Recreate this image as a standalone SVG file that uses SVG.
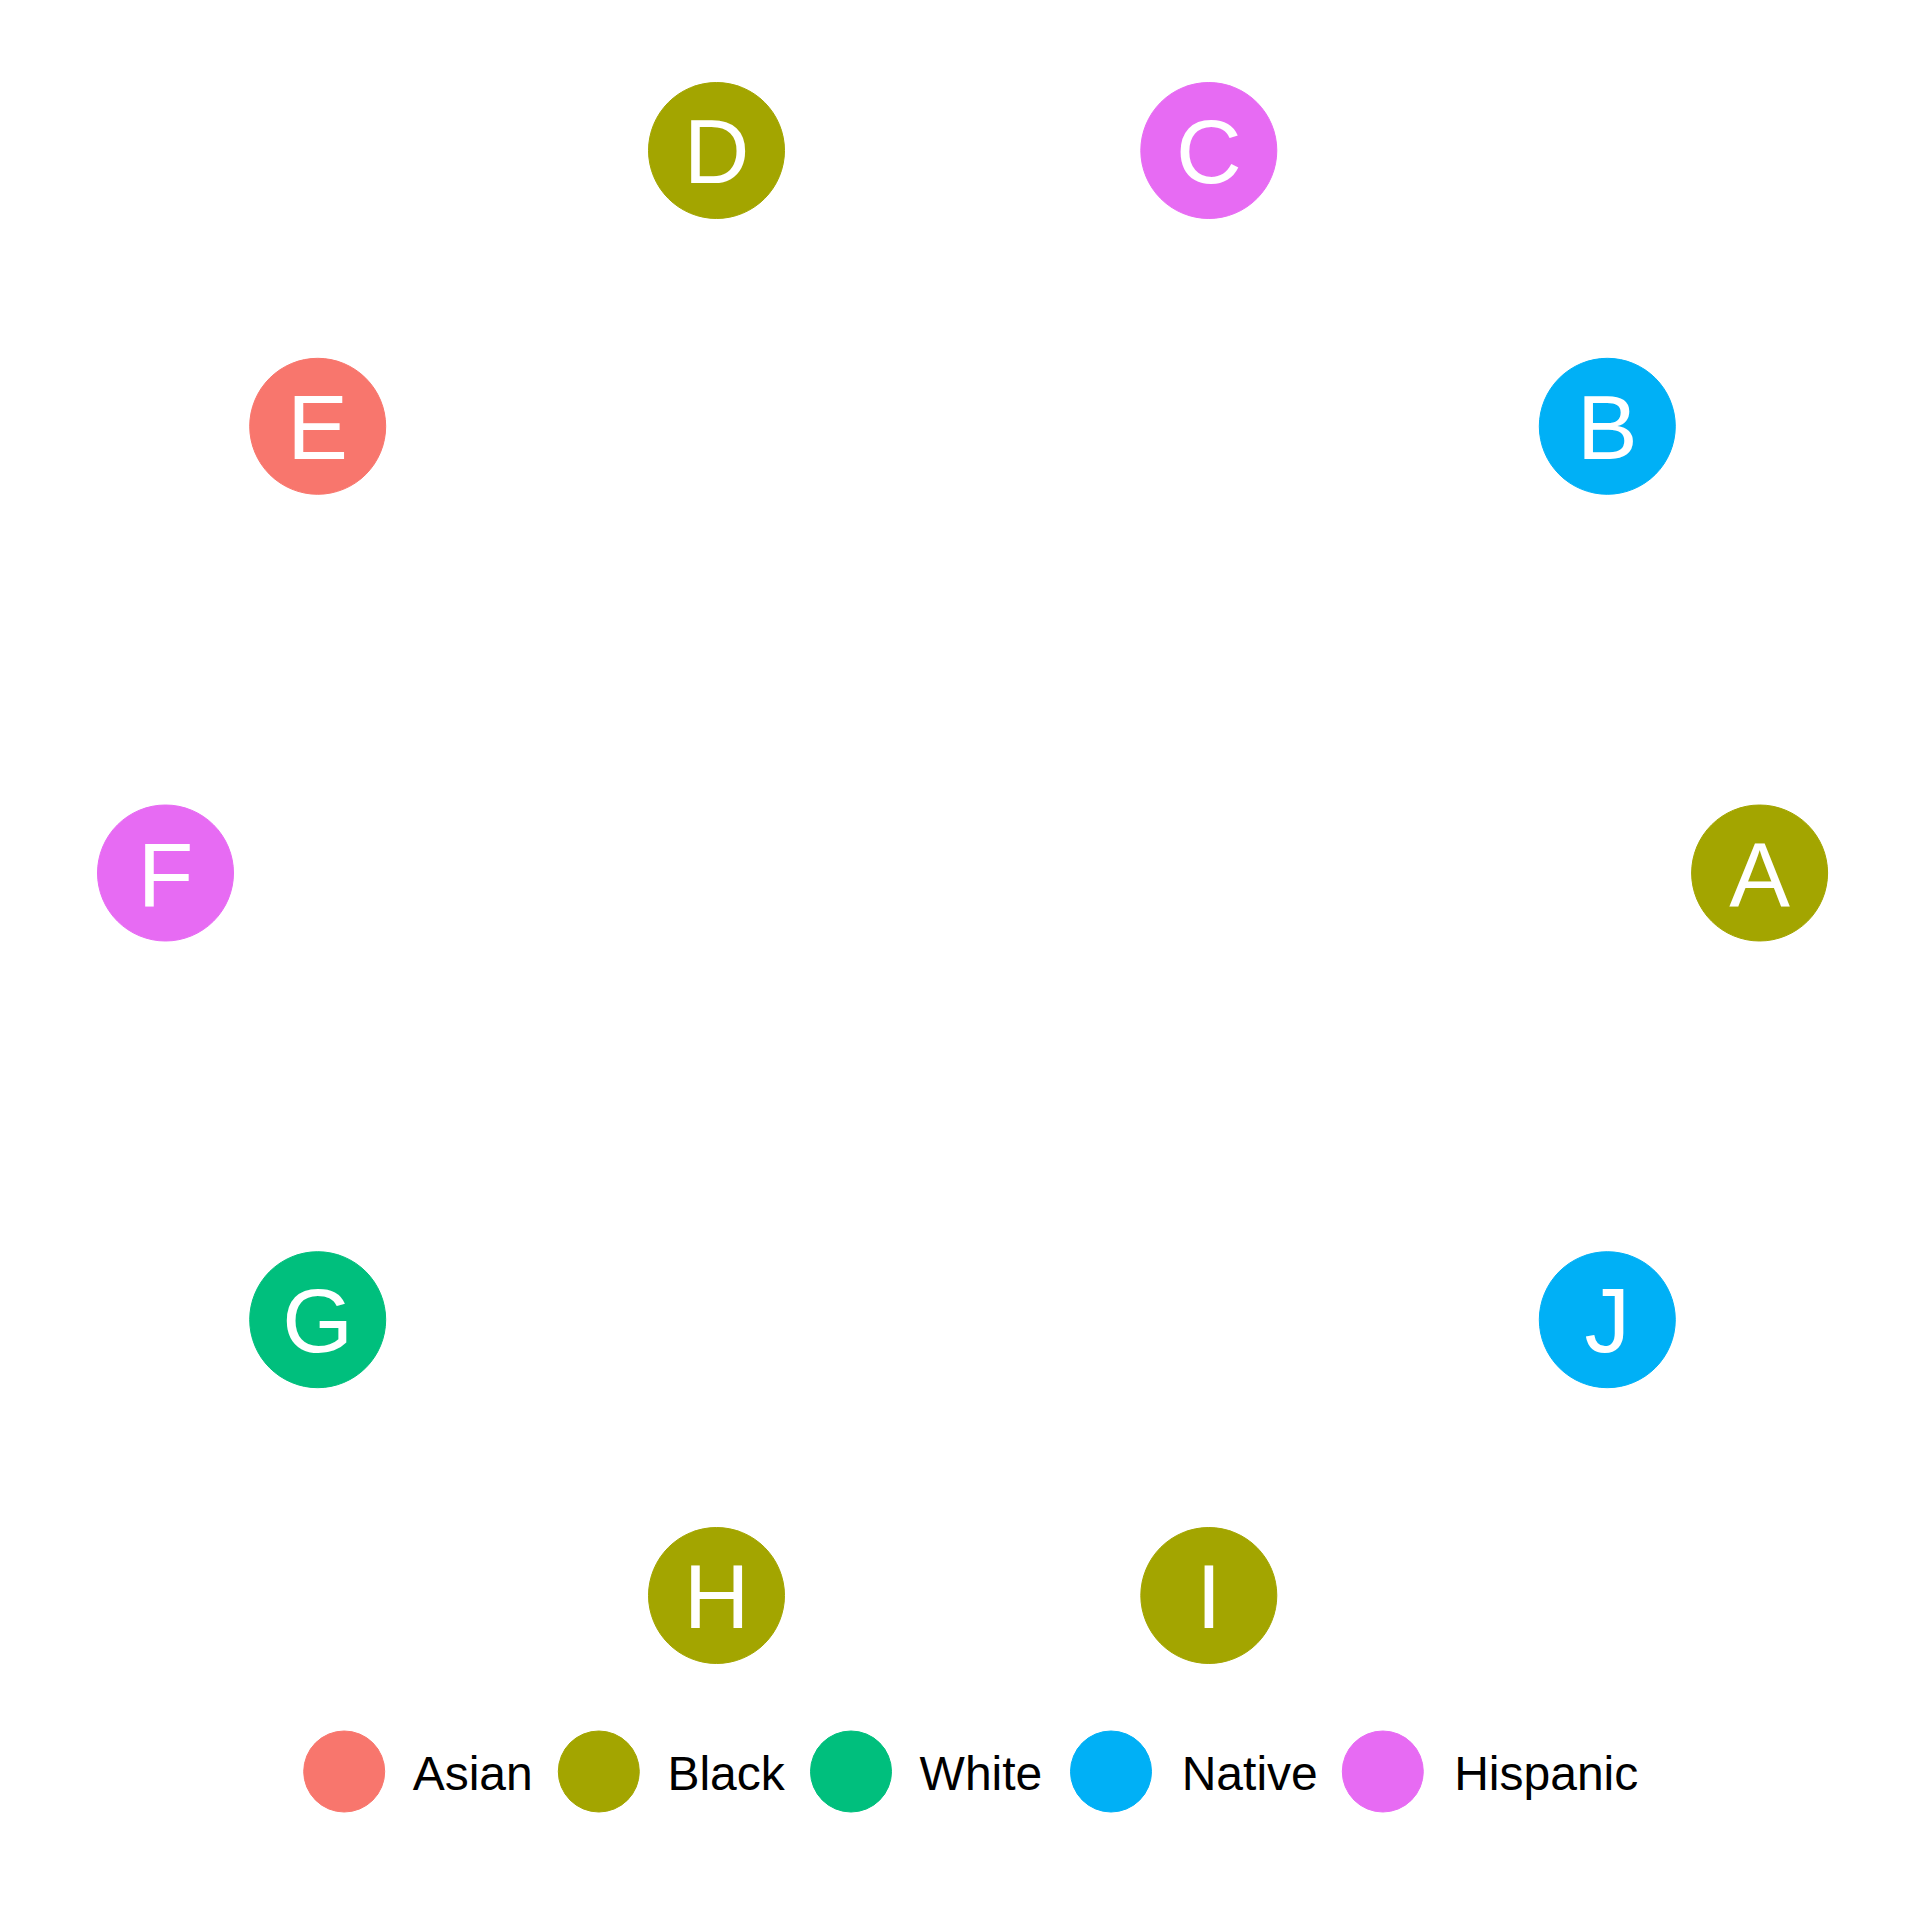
<svg xmlns="http://www.w3.org/2000/svg" width="1920" height="1920" viewBox="0 0 1920 1920">
<style>
.node{stroke-width:1}
.lbl{font-family:"Liberation Sans",Arial,sans-serif;font-size:91px;fill:#ffffff;text-anchor:middle}
.leg{font-family:"Liberation Sans",Arial,sans-serif;font-size:48px;fill:#000000}
.asian{fill:#F8766D;stroke:#F8766D}
.black{fill:#A3A500;stroke:#A3A500}
.white{fill:#00BF7D;stroke:#00BF7D}
.native{fill:#00B0F6;stroke:#00B0F6}
.hispanic{fill:#E76BF3;stroke:#E76BF3}
</style>
<rect width="1920" height="1920" fill="#ffffff"/>
<g id="edges"></g>
<g id="node-A"><circle class="node black" cx="1759.6" cy="873" r="68"/><text class="lbl" x="1759.6" y="905.5">A</text></g>
<g id="node-B"><circle class="node native" cx="1607.3" cy="426.3" r="68"/><text class="lbl" x="1607.3" y="458.8">B</text></g>
<g id="node-C"><circle class="node hispanic" cx="1208.8" cy="150.5" r="68"/><text class="lbl" x="1208.8" y="183">C</text></g>
<g id="node-D"><circle class="node black" cx="716.5" cy="150.5" r="68"/><text class="lbl" x="716.5" y="183">D</text></g>
<g id="node-E"><circle class="node asian" cx="317.7" cy="426.3" r="68"/><text class="lbl" x="317.7" y="458.8">E</text></g>
<g id="node-F"><circle class="node hispanic" cx="165.5" cy="873" r="68"/><text class="lbl" x="165.5" y="905.5">F</text></g>
<g id="node-G"><circle class="node white" cx="317.7" cy="1319.7" r="68"/><text class="lbl" x="317.7" y="1352.2">G</text></g>
<g id="node-H"><circle class="node black" cx="716.5" cy="1595.5" r="68"/><text class="lbl" x="716.5" y="1628">H</text></g>
<g id="node-I"><circle class="node black" cx="1208.8" cy="1595.5" r="68"/><text class="lbl" x="1208.8" y="1628">I</text></g>
<g id="node-J"><circle class="node native" cx="1607.3" cy="1319.7" r="68"/><text class="lbl" x="1607.3" y="1352.2">J</text></g>
<g id="legend">
<circle class="asian" cx="344.2" cy="1771.5" r="40.5"/><text class="leg" x="412.7" y="1790">Asian</text>
<circle class="black" cx="598.8" cy="1771.5" r="40.5"/><text class="leg" x="667.4" y="1790">Black</text>
<circle class="white" cx="851" cy="1771.5" r="40.5"/><text class="leg" x="919.6" y="1790">White</text>
<circle class="native" cx="1111" cy="1771.5" r="40.5"/><text class="leg" x="1181.7" y="1790">Native</text>
<circle class="hispanic" cx="1382.8" cy="1771.5" r="40.5"/><text class="leg" x="1454.2" y="1790">Hispanic</text>
</g>
</svg>
